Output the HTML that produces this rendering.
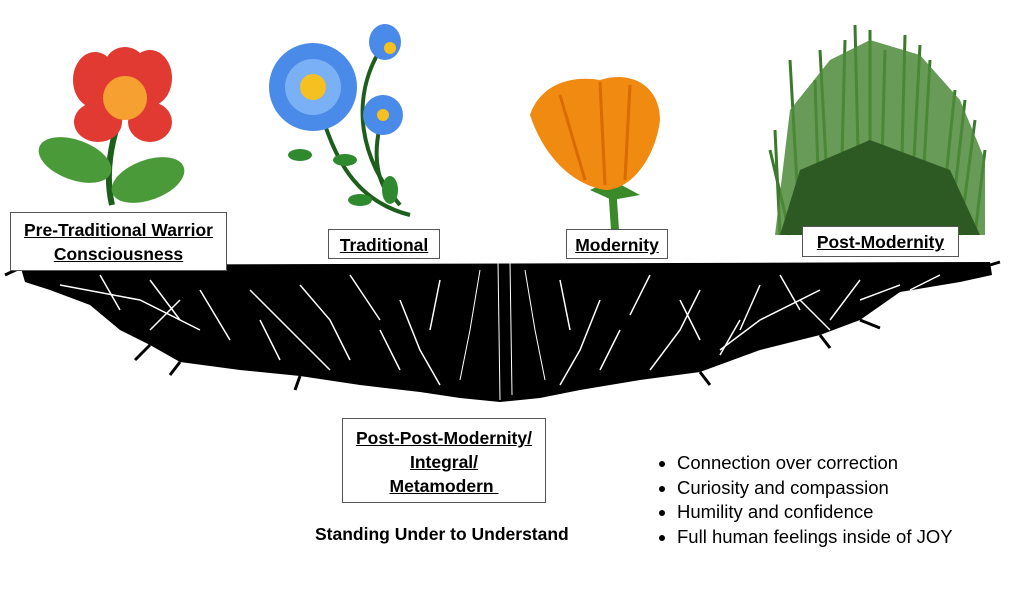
<!DOCTYPE html>
<html><head><meta charset="utf-8"><style>
body{margin:0;background:#fff;width:1023px;height:610px;overflow:hidden;position:relative;font-family:"Liberation Sans",sans-serif}
.box{position:absolute;background:#fff;border:1px solid #555;text-align:center;font-weight:bold;font-size:17.5px;line-height:24px;text-decoration:underline;color:#000;box-sizing:border-box;white-space:nowrap}
ul{position:absolute;left:655px;top:451px;margin:0;padding:0 0 0 22px;font-size:18.5px;line-height:24.5px}
</style></head><body>
<svg width="1023" height="610" style="position:absolute;left:0;top:0">
<g fill="#000">
<path d="M20 265 L990 262 L992 275 L960 282 L900 292 L860 320 L820 335 L760 350 L700 372 L640 380 L580 390 L540 398 L500 402 L460 398 L420 392 L360 385 L300 376 L240 370 L180 362 L150 345 L120 330 L90 305 L50 290 L25 282 Z"/>
</g>
<g stroke="#fff" stroke-width="1.5" fill="none">
<path d="M60 285 L140 300 L200 330 M250 290 L300 340 L330 370 M400 300 L420 350 L440 385 M600 300 L580 350 L560 385 M700 290 L680 330 L650 370 M820 290 L760 320 L720 350 M900 285 L860 300"/>
<path d="M498 262 L500 400 M510 262 L512 395 M480 270 L470 330 L460 380 M525 270 L535 330 L545 380" stroke-width="1"/>
<path d="M150 280 L180 320 M350 275 L380 320 M650 275 L630 315 M780 275 L800 310 M260 320 L280 360 M740 320 L720 355"/>
<path d="M100 275 L120 310 M200 290 L230 340 M300 285 L330 320 L350 360 M440 280 L430 330 M560 280 L570 330 M680 300 L700 340 M760 285 L740 330 M860 280 L830 320 M940 275 L910 290 M380 330 L400 370 M620 330 L600 370 M180 300 L150 330 M800 300 L830 330"/>
</g>
<g stroke="#000" stroke-width="3" fill="none">
<path d="M20 268 L5 275 M150 345 L135 360 M860 320 L880 328 M990 265 L1000 262 M180 362 L170 375 M300 376 L295 390 M700 372 L710 385 M820 335 L830 348"/>
</g>
<path d="M125 105 C110 140 105 175 112 205" stroke="#1d5e1d" stroke-width="6" fill="none"/>
<ellipse cx="75" cy="160" rx="38" ry="20" fill="#4a9a3a" transform="rotate(20 75 160)"/>
<ellipse cx="148" cy="180" rx="38" ry="20" fill="#4a9a3a" transform="rotate(-20 148 180)"/>
<g fill="#e03a32">
<ellipse cx="95" cy="80" rx="22" ry="28"/><ellipse cx="150" cy="78" rx="22" ry="28"/>
<ellipse cx="98" cy="122" rx="24" ry="20"/><ellipse cx="150" cy="122" rx="22" ry="20"/>
<ellipse cx="125" cy="65" rx="20" ry="18"/>
</g>
<circle cx="125" cy="98" r="22" fill="#f5a030"/>
<g stroke="#1d5e1d" stroke-width="4" fill="none">
<path d="M315 90 C330 150 350 200 410 215"/><path d="M380 50 C350 100 360 160 400 205"/><path d="M382 118 C370 160 380 190 395 200"/>
</g>
<g fill="#2f8a2f">
<ellipse cx="300" cy="155" rx="12" ry="6"/><ellipse cx="345" cy="160" rx="12" ry="6"/><ellipse cx="340" cy="105" rx="12" ry="6"/><ellipse cx="390" cy="190" rx="8" ry="14"/><ellipse cx="360" cy="200" rx="12" ry="6"/>
</g>
<circle cx="313" cy="87" r="44" fill="#4a8ae8"/><circle cx="313" cy="87" r="28" fill="#7ab0f5"/><circle cx="313" cy="87" r="13" fill="#f5c020"/>
<circle cx="383" cy="115" r="20" fill="#4a8ae8"/><circle cx="383" cy="115" r="6" fill="#f5c020"/>
<ellipse cx="385" cy="42" rx="16" ry="18" fill="#4a8ae8"/><circle cx="390" cy="48" r="6" fill="#f5c020"/>
<path d="M612 185 L615 230" stroke="#3a8a2a" stroke-width="8"/>
<path d="M590 190 L612 180 L640 195 L612 200 Z" fill="#3a8a2a"/>
<path d="M530 115 C540 85 570 75 600 80 C630 70 660 85 660 120 C655 160 630 190 605 190 C575 185 545 160 530 115 Z" fill="#f08a10"/>
<path d="M560 95 L585 180 M600 82 L605 185 M630 85 L625 180" stroke="#d86a00" stroke-width="3"/>
<g stroke="#3a7a2a" stroke-width="3" fill="none">
<path d="M780 235 L775 130 M800 235 L790 60 M820 235 L815 80 M840 235 L845 40 M860 235 L855 25 M880 235 L885 50 M900 235 L905 35 M920 235 L930 60 M940 235 L955 90 M960 235 L975 120 M975 235 L985 150 M790 235 L770 150 M830 235 L820 50 M870 235 L870 30 M910 235 L920 45 M950 235 L965 100"/>
</g>
<path d="M775 235 L790 110 L830 60 L870 40 L920 55 L960 100 L985 160 L985 235 Z" fill="#4d8a3a" opacity="0.85"/>
<path d="M780 235 L800 170 L870 140 L950 170 L980 235 Z" fill="#2d5a22"/>
</svg>
<div class="box" style="left:10px;top:212px;width:217px;height:59px;padding-top:5px">Pre-Traditional Warrior<br>Consciousness</div>
<div class="box" style="left:328px;top:229px;width:112px;height:30px;padding-top:3px">Traditional</div>
<div class="box" style="left:566px;top:229px;width:102px;height:30px;padding-top:3px">Modernity</div>
<div class="box" style="left:802px;top:226px;width:157px;height:31px;padding-top:3px">Post-Modernity</div>
<div class="box" style="left:342px;top:418px;width:204px;height:85px;padding-top:7px">Post-Post-Modernity/<br>Integral/<br>Metamodern&nbsp;</div>
<div style="position:absolute;left:315px;top:524px;font-weight:bold;font-size:17.5px">Standing Under to Understand</div>
<ul><li>Connection over correction</li><li>Curiosity and compassion</li><li>Humility and confidence</li><li>Full human feelings inside of JOY</li></ul>
</body></html>
